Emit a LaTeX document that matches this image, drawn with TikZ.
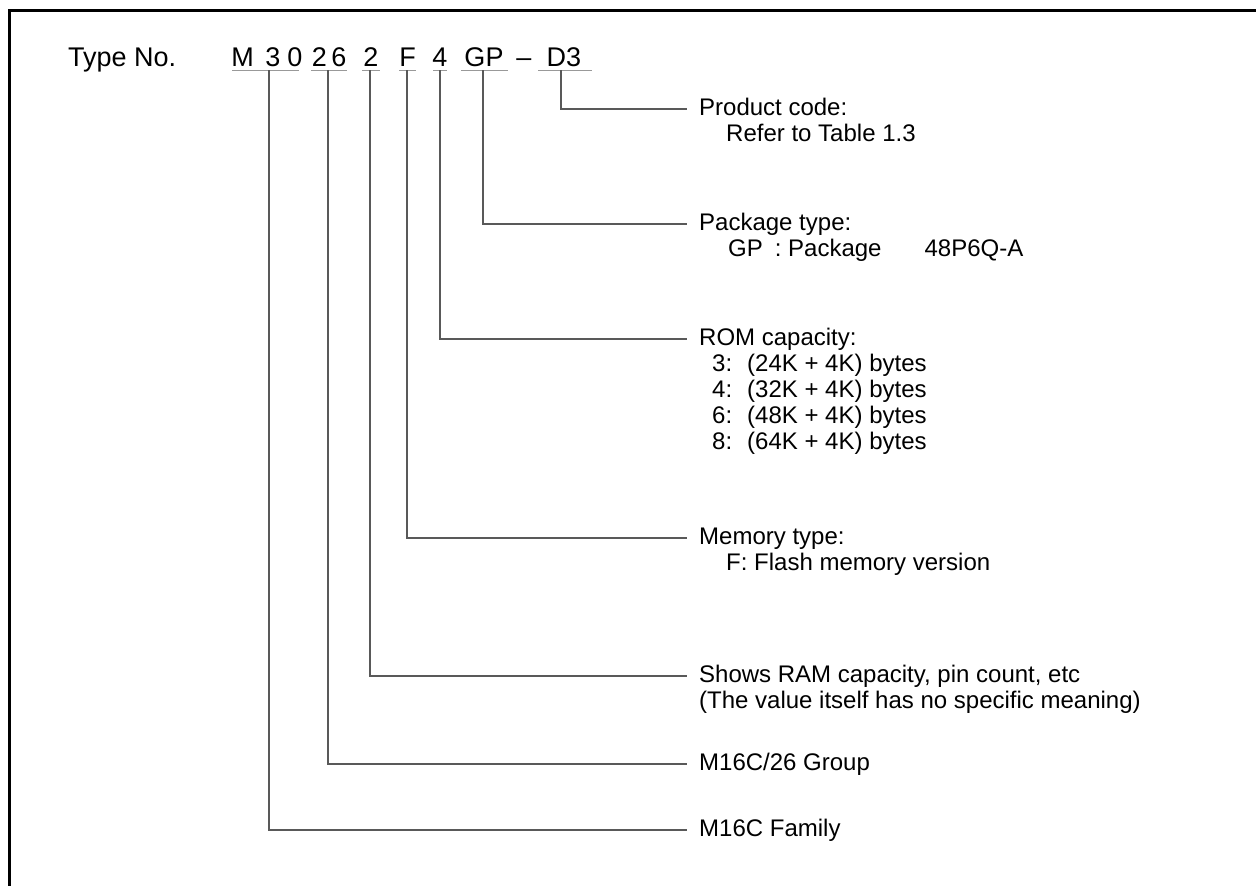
\documentclass[tikz,border=0pt]{standalone}
\usepackage{fontspec}
\setmainfont{Liberation Sans}
\usetikzlibrary{calc}
\begin{document}
\begin{tikzpicture}[x=1pt,y=-1pt,
  codech/.style={inner sep=0pt, anchor=base, font=\fontsize{27}{29}\selectfont},
  title/.style={anchor=west, inner sep=0pt, text height=18pt, text depth=5pt, font=\fontsize{24}{26}\selectfont},
  detail/.style={anchor=base west, inner sep=0pt, font=\fontsize{24}{26}\selectfont},
  ul/.style={draw=black!40, line width=1pt},
  conn/.style={draw=black!65, line width=1.2pt},
  frameline/.style={draw=black, line width=2.5pt}]
\useasboundingbox (0,0) rectangle (1256,886);
% frame
\draw[frameline] (9.5,886) -- (9.5,10.5) -- (1256,10.5);
% type number row
\node[codech, anchor=base west] (typeno) at (68,66) {Type No.};
\node[codech] (cM) at (242.5,66) {M};
\node[codech] (c3) at (273,66) {3};
\node[codech] (c0) at (295,66) {0};
\node[codech] (c2a) at (319.5,66) {2};
\node[codech] (c6) at (339,66) {6};
\node[codech] (c2b) at (371,66) {2};
\node[codech] (cF) at (407.5,66) {F};
\node[codech] (c4) at (440,66) {4};
\node[codech] (cGP) at (484,66) {GP};
\node[codech] (cdash) at (524,66) {--};
\node[codech] (cD3) at (564,66) {D3};
% underlines
\draw[ul] (232,70) -- (299,70);
\draw[ul] (311,70) -- (347,70);
\draw[ul] (362,70) -- (380,70);
\draw[ul] (399,70) -- (416,70);
\draw[ul] (433,70) -- (447,70);
\draw[ul] (461,70) -- (508,70);
\draw[ul] (538,70) -- (592,70);
% connector start points
\coordinate (uM) at (269,70);
\coordinate (u26) at (328,70);
\coordinate (u2) at (370,70);
\coordinate (uF) at (407,70);
\coordinate (u4) at (440,70);
\coordinate (uGP) at (483,70);
\coordinate (uD3) at (561,70);
% descriptions
\node[title] (pc) at (699,109) {Product code:};
\node[detail] (pcd) at ($(pc.base west)+(27,26)$) {Refer to Table 1.3};
\node[title] (pk) at (699,224) {Package type:};
\node[detail] (pkd) at ($(pk.base west)+(29,26)$) {GP\hspace{12pt}: Package\hspace{43pt}48P6Q-A};
\node[title] (rom) at (699,339) {ROM capacity:};
\node[detail] (rom3) at ($(rom.base west)+(13,26)$) {3:\hspace{15pt}(24K + 4K) bytes};
\node[detail] (rom4) at ($(rom.base west)+(13,52)$) {4:\hspace{15pt}(32K + 4K) bytes};
\node[detail] (rom6) at ($(rom.base west)+(13,78)$) {6:\hspace{15pt}(48K + 4K) bytes};
\node[detail] (rom8) at ($(rom.base west)+(13,104)$) {8:\hspace{15pt}(64K + 4K) bytes};
\node[title] (mem) at (699,538) {Memory type:};
\node[detail] (memd) at ($(mem.base west)+(27,26)$) {F: Flash memory version};
\node[title] (ram) at (699,676) {Shows RAM capacity, pin count, etc};
\node[detail] (ramd) at ($(ram.base west)+(0,26)$) {(The value itself has no specific meaning)};
\node[title] (grp) at (699,764) {M16C/26 Group};
\node[title] (fam) at (699,830) {M16C Family};
% connectors
\draw[conn] (uD3) |- ([xshift=-12pt]pc.west);
\draw[conn] (uGP) |- ([xshift=-12pt]pk.west);
\draw[conn] (u4) |- ([xshift=-12pt]rom.west);
\draw[conn] (uF) |- ([xshift=-12pt]mem.west);
\draw[conn] (u2) |- ([xshift=-12pt]ram.west);
\draw[conn] (u26) |- ([xshift=-12pt]grp.west);
\draw[conn] (uM) |- ([xshift=-12pt]fam.west);
\end{tikzpicture}
\end{document}
